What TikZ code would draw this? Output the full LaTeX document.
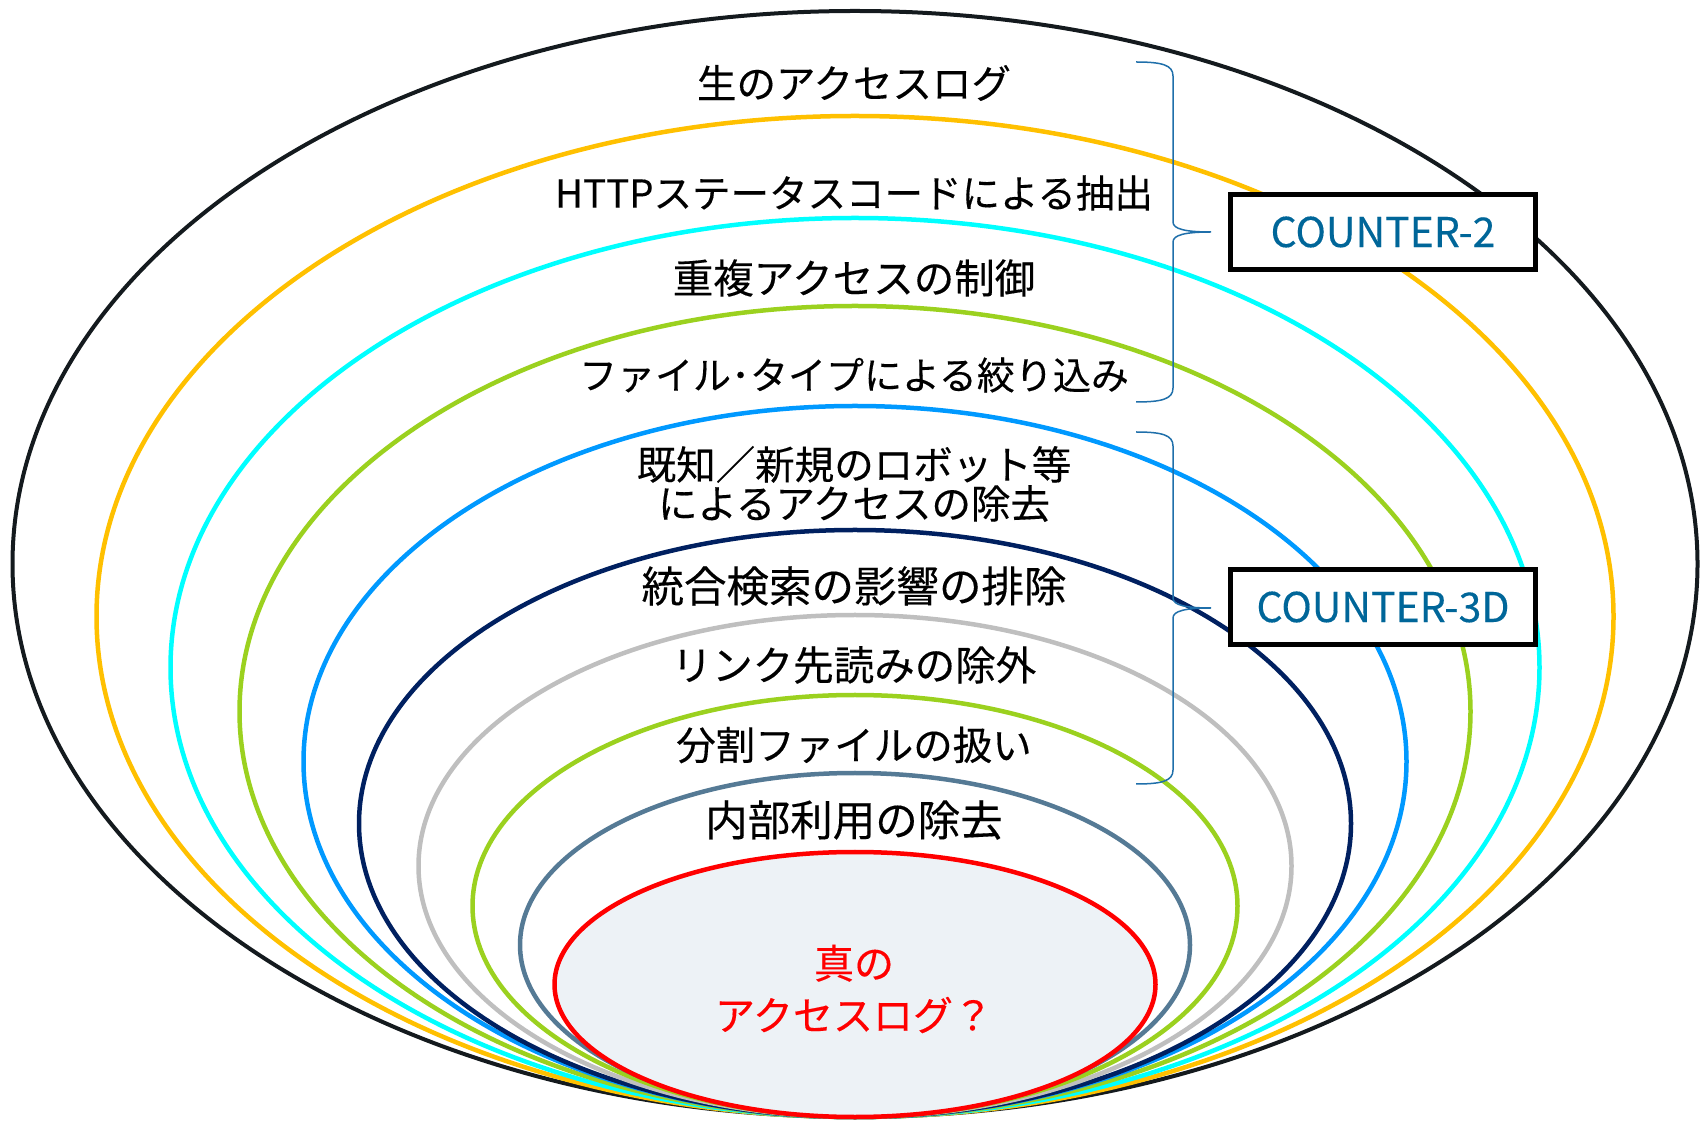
\documentclass[tikz,border=0pt]{standalone}
\usepackage{fontspec}
\setmainfont{Noto Sans CJK JP}[FakeBold=0.3]
\definecolor{ringblack}{HTML}{141A1E}
\definecolor{ringorange}{HTML}{FFC000}
\definecolor{ringcyan}{HTML}{00FFFF}
\definecolor{ringgreen}{HTML}{9BD11F}
\definecolor{ringblue}{HTML}{0099FF}
\definecolor{ringnavy}{HTML}{002060}
\definecolor{ringgray}{HTML}{BFBFBF}
\definecolor{ringslate}{HTML}{557A95}
\definecolor{coreFill}{HTML}{EDF2F6}
\definecolor{countblue}{HTML}{006699}
\definecolor{bracecol}{HTML}{1F6FAA}

\begin{document}
\begin{tikzpicture}[x=1pt, y=1pt,
	every node/.style={font=\fontsize{40}{40}\selectfont, align=center, inner sep=0pt},
	txt/.style={font=\fontsize{#1}{39}\selectfont},
	ring/.style={line width=4.5pt},
	counterbox/.style={draw=black, line width=5pt, fill=white, minimum width=305pt, minimum height=75pt, text=countblue, font=\fontsize{41}{41}\selectfont}]
				\useasboundingbox (0,0) rectangle (1703,1120);
				
				% rings, outermost first
				\draw[ring, draw=ringblack, line width=4pt] (855,556) ellipse [x radius=842.5pt, y radius=553pt];
				\draw[ring, draw=ringorange] (855,503.5) ellipse [x radius=758.5pt, y radius=500.5pt];
				\draw[ring, draw=ringcyan] (855,452.5) ellipse [x radius=684.5pt, y radius=449.5pt];
				\draw[ring, draw=ringgreen] (855,408.5) ellipse [x radius=615.5pt, y radius=405.5pt];
				\draw[ring, draw=ringblue] (855,358.5) ellipse [x radius=551.5pt, y radius=355.5pt];
				\draw[ring, draw=ringnavy] (855,296.5) ellipse [x radius=496pt, y radius=293.5pt];
				\draw[ring, draw=ringgray] (855,254) ellipse [x radius=436.5pt, y radius=251pt];
				\draw[ring, draw=ringgreen] (855,214) ellipse [x radius=382.5pt, y radius=211pt];
				\draw[ring, draw=ringslate] (855,175) ellipse [x radius=335pt, y radius=172pt];
				\draw[ring, draw=red, fill=coreFill] (855,135.5) ellipse [x radius=300.5pt, y radius=132.5pt];
				
				% labels
				\node[txt=39.5] (raw) at (854,1037) {生のアクセスログ};
				\node[txt=38.5] (http) at (854,927) {HTTPステータスコードによる抽出};
				\node[txt=40.5] (dup) at (854,842) {重複アクセスの制御};
				\node[txt=38] (ftype) at (854,745) {ファイル･タイプによる絞り込み};
				\node[txt=39.5] (robot) at (854,636) {既知／新規のロボット等\\によるアクセスの除去};
				\node[txt=42.5] (fed) at (854,534) {統合検索の影響の排除};
				\node[txt=40.5] (prefetch) at (854,455) {リンク先読みの除外};
				\node[txt=39.5] (split) at (854,375) {分割ファイルの扱い};
				\node[txt=42.5] (internal) at (854,300) {内部利用の除去};
				\node[text=red, font=\fontsize{40}{52}\selectfont] (truelog) at (854,131) {真の\\アクセスログ？};
				
				% braces
				\foreach \ya/\yb in {1058/718, 688/336}{
					\pgfmathsetmacro\ym{(\ya+\yb)/2}
					\draw[bracecol, line width=1.5pt] (1136,\ya) .. controls (1162,\ya) and (1173,\ya-3) .. (1173,\ya-14)
						-- (1173,\ym+10) .. controls (1173,\ym+3) and (1185,\ym) .. (1211,\ym)
						.. controls (1185,\ym) and (1173,\ym-3) .. (1173,\ym-10)
						-- (1173,\yb+14) .. controls (1173,\yb+3) and (1162,\yb) .. (1136,\yb);
				}
				
				\node[counterbox] (c2) at (1383,888) {COUNTER-2};
				\node[counterbox] (c3d) at (1383,513) {COUNTER-3D};
				\end{tikzpicture}
\end{document}
